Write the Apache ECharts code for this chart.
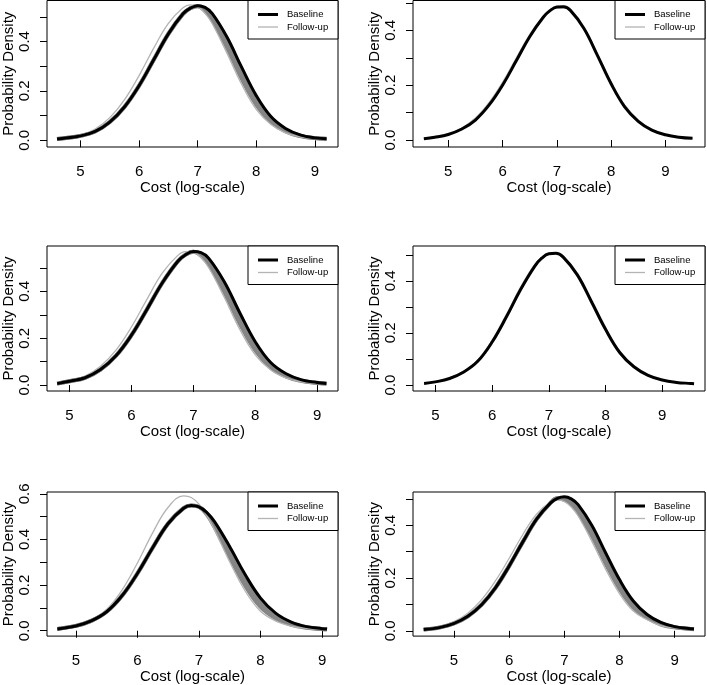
<!DOCTYPE html>
<html>
<head>
<meta charset="utf-8">
<script src="https://cdn.jsdelivr.net/npm/echarts@6/dist/echarts.min.js"></script>
<style>
  html, body { margin: 0; padding: 0; background: #fff; }
  #chart { width: 707px; height: 685px; }
</style>
</head>
<body>
<div id="chart"></div>
<script>
// ---- data (x = log cost, y = density) ----

// panel 1, top left
const x1 = [4.6, 4.75, 5.0, 5.25, 5.5, 5.75, 6.0, 6.25, 6.5, 6.75, 6.875, 7.0, 7.125, 7.25, 7.5, 7.75, 8.0, 8.25, 8.5, 8.75, 9.0, 9.2];
const base1 = [0.005, 0.009, 0.018, 0.036, 0.074, 0.135, 0.221, 0.326, 0.431, 0.512, 0.535, 0.545, 0.538, 0.513, 0.418, 0.296, 0.181, 0.096, 0.048, 0.022, 0.010, 0.006];
const follow1 = [0.005, 0.010, 0.022, 0.046, 0.092, 0.164, 0.262, 0.373, 0.473, 0.537, 0.548, 0.541, 0.515, 0.472, 0.353, 0.227, 0.125, 0.064, 0.030, 0.014, 0.008, 0.005];
const bandA1 = [0.005, 0.009, 0.018, 0.036, 0.074, 0.135, 0.221, 0.326, 0.431, 0.512, 0.535, 0.544, 0.530, 0.499, 0.396, 0.273, 0.162, 0.085, 0.042, 0.019, 0.009, 0.006];
const bandB1 = [0.005, 0.009, 0.018, 0.036, 0.074, 0.135, 0.221, 0.326, 0.431, 0.512, 0.535, 0.543, 0.523, 0.486, 0.375, 0.250, 0.144, 0.075, 0.036, 0.017, 0.009, 0.005];

// panel 2, top right
const x2 = [4.55, 4.75, 5.0, 5.25, 5.5, 5.75, 6.0, 6.25, 6.5, 6.75, 6.875, 7.0, 7.125, 7.25, 7.5, 7.75, 8.0, 8.25, 8.5, 8.75, 9.0, 9.25, 9.5];
const base2 = [0.005, 0.010, 0.020, 0.040, 0.073, 0.127, 0.200, 0.288, 0.377, 0.448, 0.472, 0.485, 0.486, 0.473, 0.407, 0.308, 0.205, 0.121, 0.068, 0.036, 0.019, 0.010, 0.006];
const follow2 = [0.006, 0.012, 0.023, 0.044, 0.080, 0.136, 0.210, 0.298, 0.385, 0.452, 0.476, 0.482, 0.482, 0.470, 0.410, 0.313, 0.212, 0.128, 0.073, 0.039, 0.021, 0.011, 0.006];

// panel 3, middle left
const x3 = [4.8, 5.0, 5.25, 5.5, 5.75, 6.0, 6.25, 6.5, 6.75, 6.875, 7.0, 7.125, 7.25, 7.5, 7.75, 8.0, 8.25, 8.5, 8.75, 9.0, 9.15];
const base3 = [0.006, 0.016, 0.031, 0.066, 0.125, 0.213, 0.323, 0.437, 0.529, 0.557, 0.570, 0.566, 0.541, 0.441, 0.309, 0.185, 0.096, 0.048, 0.022, 0.011, 0.007];
const follow3 = [0.008, 0.019, 0.038, 0.080, 0.149, 0.248, 0.366, 0.479, 0.554, 0.570, 0.568, 0.544, 0.501, 0.375, 0.238, 0.129, 0.064, 0.030, 0.014, 0.008, 0.006];
const bandA3 = [0.006, 0.016, 0.031, 0.066, 0.125, 0.213, 0.323, 0.437, 0.529, 0.557, 0.569, 0.559, 0.528, 0.419, 0.285, 0.166, 0.085, 0.042, 0.019, 0.010, 0.007];
const bandB3 = [0.006, 0.016, 0.031, 0.066, 0.125, 0.213, 0.323, 0.437, 0.529, 0.557, 0.569, 0.552, 0.514, 0.397, 0.262, 0.148, 0.075, 0.036, 0.017, 0.009, 0.006];

// panel 4, middle right
const x4 = [4.8, 5.0, 5.25, 5.5, 5.75, 6.0, 6.25, 6.5, 6.75, 6.875, 7.0, 7.125, 7.25, 7.5, 7.75, 8.0, 8.25, 8.5, 8.75, 9.0, 9.25, 9.5, 9.56];
const base4 = [0.006, 0.012, 0.025, 0.050, 0.092, 0.165, 0.261, 0.366, 0.456, 0.487, 0.504, 0.506, 0.492, 0.424, 0.321, 0.214, 0.125, 0.070, 0.037, 0.019, 0.010, 0.006, 0.005];
const follow4 = [0.007, 0.013, 0.027, 0.053, 0.097, 0.172, 0.270, 0.375, 0.463, 0.491, 0.505, 0.505, 0.488, 0.417, 0.313, 0.207, 0.120, 0.067, 0.035, 0.019, 0.010, 0.006, 0.005];

// panel 5, bottom left
const x5 = [4.7, 5.0, 5.25, 5.5, 5.75, 6.0, 6.25, 6.5, 6.75, 6.875, 7.0, 7.125, 7.25, 7.5, 7.75, 8.0, 8.25, 8.5, 8.75, 9.0, 9.08];
const base5 = [0.008, 0.021, 0.043, 0.083, 0.153, 0.251, 0.365, 0.470, 0.537, 0.549, 0.543, 0.519, 0.479, 0.368, 0.246, 0.143, 0.076, 0.038, 0.018, 0.009, 0.007];
const follow5 = [0.007, 0.020, 0.044, 0.093, 0.178, 0.297, 0.430, 0.541, 0.591, 0.584, 0.555, 0.506, 0.443, 0.301, 0.174, 0.085, 0.042, 0.020, 0.010, 0.006, 0.005];
const bandA5 = [0.008, 0.021, 0.043, 0.083, 0.153, 0.251, 0.365, 0.470, 0.537, 0.549, 0.543, 0.515, 0.467, 0.346, 0.222, 0.124, 0.065, 0.032, 0.015, 0.008, 0.006];
const bandB5 = [0.008, 0.021, 0.043, 0.083, 0.153, 0.251, 0.365, 0.470, 0.537, 0.549, 0.543, 0.510, 0.455, 0.323, 0.198, 0.104, 0.053, 0.026, 0.013, 0.007, 0.006];

// panel 6, bottom right
const x6 = [4.45, 4.75, 5.0, 5.25, 5.5, 5.75, 6.0, 6.25, 6.5, 6.75, 6.875, 7.0, 7.125, 7.25, 7.5, 7.75, 8.0, 8.25, 8.5, 8.75, 9.0, 9.25, 9.35];
const base6 = [0.005, 0.013, 0.028, 0.055, 0.099, 0.163, 0.246, 0.338, 0.424, 0.485, 0.502, 0.508, 0.500, 0.478, 0.399, 0.295, 0.194, 0.113, 0.062, 0.032, 0.016, 0.009, 0.007];
const follow6 = [0.006, 0.016, 0.035, 0.067, 0.118, 0.189, 0.275, 0.366, 0.443, 0.489, 0.496, 0.490, 0.469, 0.435, 0.339, 0.233, 0.141, 0.075, 0.042, 0.020, 0.011, 0.007, 0.006];
const bandA6 = [0.005, 0.013, 0.028, 0.055, 0.099, 0.163, 0.246, 0.338, 0.424, 0.485, 0.502, 0.502, 0.490, 0.464, 0.379, 0.274, 0.176, 0.100, 0.055, 0.028, 0.014, 0.008, 0.007];
const bandB6 = [0.005, 0.013, 0.028, 0.055, 0.099, 0.163, 0.246, 0.338, 0.424, 0.485, 0.502, 0.496, 0.480, 0.449, 0.359, 0.254, 0.159, 0.088, 0.049, 0.024, 0.013, 0.008, 0.006];

const xTicks = [5, 6, 7, 8, 9];
const yTicks = [0, 0.1, 0.2, 0.3, 0.4, 0.5];
const yTicks5 = [0, 0.1, 0.2, 0.3, 0.4, 0.5, 0.6];
const yLabels = [0, 0.2, 0.4];
const yLabels5 = [0, 0.2, 0.4, 0.6];
const legendNames = ["Baseline", "Follow-up"];

// ---- layout ----
const FONT = "'Liberation Sans', Arial, Helvetica, sans-serif";
const panels = [
  { x: x1, base: base1, follow: follow1, bands: [bandA1, bandB1], box: [45, 0.5, 293, 146.5], xr: [4.429, 9.395], yr: [-0.027, 0.566], yt: yTicks, yl: yLabels },
  { x: x2, base: base2, follow: follow2, bands: [], box: [413, 0.5, 292, 146.5], xr: [4.35, 9.73], yr: [-0.0255, 0.509], yt: yTicks, yl: yLabels },
  { x: x3, base: base3, follow: follow3, bands: [bandA3, bandB3], box: [45, 246, 293, 145], xr: [4.636, 9.337], yr: [-0.0255, 0.594], yt: yTicks, yl: yLabels },
  { x: x4, base: base4, follow: follow4, bands: [], box: [413, 246, 292, 145], xr: [4.605, 9.753], yr: [-0.023, 0.534], yt: yTicks, yl: yLabels },
  { x: x5, base: base5, follow: follow5, bands: [bandA5, bandB5], box: [45, 492, 293, 145], xr: [4.532, 9.258], yr: [-0.0236, 0.608], yt: yTicks5, yl: yLabels5 },
  { x: x6, base: base6, follow: follow6, bands: [bandA6, bandB6], box: [413, 492, 292, 145], xr: [4.256, 9.55], yr: [-0.020, 0.526], yt: yTicks, yl: yLabels },
];

const grid = [], xAxis = [], yAxis = [], series = [], graphic = [];

function pairs(xs, ys) {
  return xs.map((v, i) => [v, ys[i]]);
}

function lineSeries(i, name, xs, ys, color, width) {
  return {
    name: name,
    type: "line",
    xAxisIndex: i,
    yAxisIndex: i,
    data: pairs(xs, ys),
    smooth: 0.4,
    symbol: "none",
    silent: true,
    color: color,
    lineStyle: { color: color, width: width },
  };
}

panels.forEach((p, i) => {
  const [left, top, w, h] = p.box;
  grid.push({ left: left, top: top, width: w, height: h, show: true, borderColor: "#000", borderWidth: 1, backgroundColor: "transparent" });

  xAxis.push({
    gridIndex: i, type: "value", min: p.xr[0], max: p.xr[1],
    axisLine: { show: false }, splitLine: { show: false },
    axisTick: { show: true, customValues: xTicks, length: 7, lineStyle: { color: "#000" } },
    axisLabel: { customValues: xTicks, margin: 17, fontSize: 15, color: "#000", fontFamily: FONT },
    name: "Cost (log-scale)", nameLocation: "middle", nameGap: 31,
    nameTextStyle: { fontSize: 15, color: "#000", fontFamily: FONT },
  });

  yAxis.push({
    gridIndex: i, type: "value", min: p.yr[0], max: p.yr[1],
    axisLine: { show: false }, splitLine: { show: false },
    axisTick: { show: true, customValues: p.yt, length: 7, lineStyle: { color: "#000" } },
    axisLabel: { customValues: p.yl, rotate: 90, margin: 15, fontSize: 15, color: "#000", fontFamily: FONT, formatter: (v) => v.toFixed(1) },
    name: "Probability Density", nameLocation: "middle", nameRotate: 90, nameGap: 31,
    nameTextStyle: { fontSize: 15, color: "#000", fontFamily: FONT },
  });

  p.bands.forEach((b) => series.push(lineSeries(i, "band", p.x, b, "#858585", 4)));
  series.push(lineSeries(i, "Follow-up", p.x, p.follow, "#b4b4b4", 1.3));
  series.push(lineSeries(i, "Baseline", p.x, p.base, "#000", 3));

  // legend box in the top right corner of each panel
  const lw = 90, lh = 38.5;
  const lx = left + w - lw, ly = top;
  graphic.push({ type: "rect", z: 100, shape: { x: lx, y: ly, width: lw, height: lh }, style: { fill: "#fff", stroke: "#000", lineWidth: 1 } });
  graphic.push({ type: "line", z: 101, shape: { x1: lx + 10, y1: ly + 14, x2: lx + 30, y2: ly + 14 }, style: { stroke: "#000", lineWidth: 3 } });
  graphic.push({ type: "line", z: 101, shape: { x1: lx + 10, y1: ly + 26.5, x2: lx + 30, y2: ly + 26.5 }, style: { stroke: "#b4b4b4", lineWidth: 1.3 } });
  legendNames.forEach((n, k) => {
    graphic.push({ type: "text", z: 101, style: { x: lx + 39, y: ly + 14 + k * 12.5, text: n, fontSize: 9.5, fontFamily: FONT, fill: "#000", verticalAlign: "middle" } });
  });
});

const myChart = echarts.init(document.getElementById("chart"));
myChart.setOption({
  animation: false,
  backgroundColor: "#fff",
  grid: grid,
  xAxis: xAxis,
  yAxis: yAxis,
  series: series,
  graphic: graphic,
});
</script>
</body>
</html>
